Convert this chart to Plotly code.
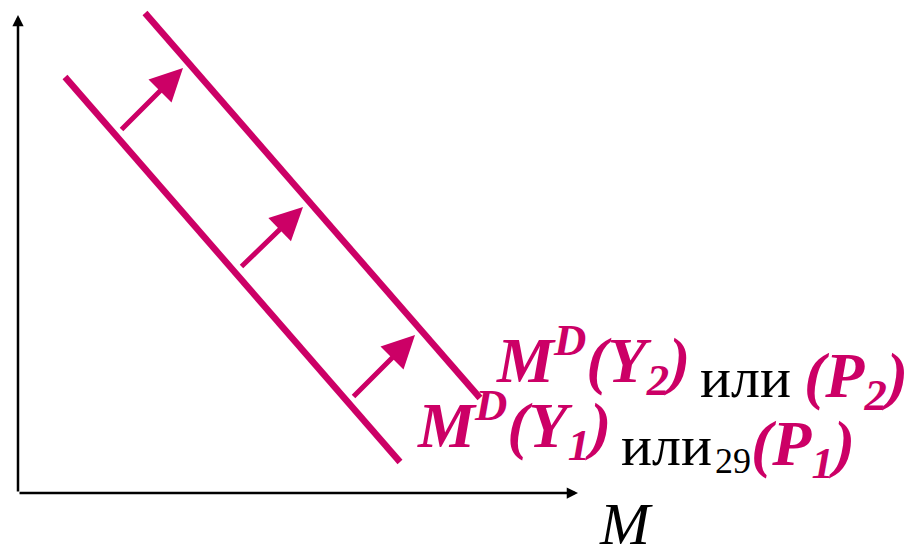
import plotly.graph_objects as go

# Diagram data (axis origin at 0,0)
demand_y1_x = [47, 382]
demand_y1_y = [416, 31]
demand_y2_x = [127, 462]
demand_y2_y = [480, 95]
shift_from_x = [102, 222, 334]
shift_from_y = [362, 225, 95]
shift_to_x = [165, 285, 397]
shift_to_y = [425, 286, 158]
axis_x_end = 560
axis_y_end = 478

curve_labels = ["<b><i>M<sup>D</sup>(Y<sub>1</sub>)</i></b>",
                "<b><i>M<sup>D</sup>(Y<sub>2</sub>)</i></b>"]
or_word = "или"
price_labels = ["<b><i>(P<sub>1</sub>)</i></b>", "<b><i>(P<sub>2</sub>)</i></b>"]
slide_number = "29"
axis_label = "<i>M</i>"

MAG = "#CC0066"
FONT = "Liberation Serif, Tinos, 'Times New Roman', 'DejaVu Serif', serif"

fig = go.Figure()
for xs, ys in [(demand_y1_x, demand_y1_y), (demand_y2_x, demand_y2_y)]:
    fig.add_trace(go.Scatter(x=xs, y=ys, mode="lines",
                             line=dict(color=MAG, width=6.5), hoverinfo="skip",
                             showlegend=False))

ann = []
# axes
ann.append(dict(x=axis_x_end, y=0, ax=0, ay=0, xref="x", yref="y", axref="x", ayref="y",
                showarrow=True, arrowhead=2, arrowwidth=2.5, arrowsize=0.9,
                arrowcolor="black", text="", standoff=0))
ann.append(dict(x=0, y=axis_y_end, ax=0, ay=0, xref="x", yref="y", axref="x", ayref="y",
                showarrow=True, arrowhead=2, arrowwidth=2.5, arrowsize=0.9,
                arrowcolor="black", text="", standoff=0))
# shift arrows
for x0, y0, x1, y1 in zip(shift_from_x, shift_from_y, shift_to_x, shift_to_y):
    ann.append(dict(x=x1, y=y1, ax=x0, ay=y0, xref="x", yref="y", axref="x", ayref="y",
                    showarrow=True, arrowhead=2, arrowwidth=5, arrowsize=1.3,
                    arrowcolor=MAG, text="", standoff=0))


def label(x, y, text, size, color, family=FONT):
    return dict(x=x, y=y, xref="x", yref="y", xanchor="left", yanchor="middle",
                showarrow=False, text=text, font=dict(family=family, size=size, color=color))


# line for Y2 / P2 (upper)
ann.append(label(476, 133, curve_labels[1], 64, MAG))
ann.append(label(680, 116, or_word, 58, "black"))
ann.append(label(784, 113, price_labels[1], 64, MAG))
# line for Y1 / P1 (lower)
ann.append(label(397, 68, curve_labels[0], 64, MAG))
ann.append(label(601, 48, or_word, 58, "black"))
ann.append(label(731, 45, price_labels[0], 64, MAG))
ann.append(label(695, 32, slide_number, 36, "black"))
# axis label
ann.append(dict(x=608, y=-54, xref="x", yref="y", xanchor="center", yanchor="bottom",
                height=54, valign="top",
                showarrow=False, text=axis_label,
                font=dict(family=FONT, size=60, color="black")))

fig.update_layout(
    width=913, height=547, margin=dict(l=0, r=0, t=0, b=0),
    paper_bgcolor="white", plot_bgcolor="white",
    xaxis=dict(range=[-18, 895], visible=False, fixedrange=True),
    yaxis=dict(range=[-54, 493], visible=False, fixedrange=True),
    annotations=ann, showlegend=False,
)
fig.write_html("out.html", config={"displayModeBar": False},
               post_script="document.body.style.margin='0';document.body.style.overflow='hidden';")
